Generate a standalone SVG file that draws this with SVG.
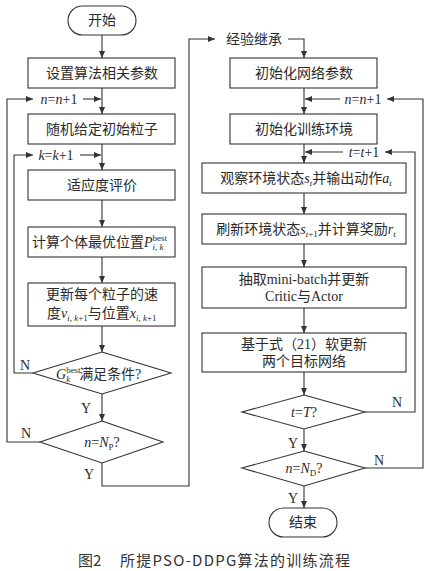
<svg xmlns="http://www.w3.org/2000/svg" width="447" height="571" viewBox="0 0 447 571">
<defs>
<marker id="arr" markerUnits="userSpaceOnUse" markerWidth="7" markerHeight="6" refX="7" refY="3" orient="auto">
<path d="M0,0 L7,3 L0,6 z" fill="#333"/>
</marker>
<style>
.n{fill:#fff;stroke:#333;stroke-width:1.1}
.t{font-family:"Liberation Serif","Noto Sans CJK SC",serif;font-size:14px;fill:#2a2a2a}
.m{text-anchor:middle}
.i{font-style:italic}
.s{font-size:9px}
.c{fill:none;stroke:#333;stroke-width:1.1}
.a{marker-end:url(#arr)}
</style>
</defs>
<rect width="447" height="571" fill="#fff"/>

<g id="connectors">
<path class="c a" d="M102,35 V58"/>
<path class="c a" d="M102,88 V114"/>
<path class="c a" d="M102,144 V170"/>
<path class="c a" d="M102,200 V227"/>
<path class="c a" d="M102,257 V283"/>
<path class="c a" d="M102,326 V352"/>
<path class="c a" d="M102,394 V421"/>
<path class="c a" d="M40,442 H7 V99 H33"/>
<path class="c a" d="M83,99 H101"/>
<path class="c a" d="M33,373 H14 V155 H33"/>
<path class="c a" d="M80,155 H101"/>
<path class="c a" d="M102,463 V486 H189 V39 H215"/>
<path class="c a" d="M288,39 H304 V58"/>
<path class="c a" d="M304,88 V114"/>
<path class="c a" d="M304,144 V163"/>
<path class="c a" d="M304,193 V214"/>
<path class="c a" d="M304,244 V267"/>
<path class="c a" d="M304,308 V333"/>
<path class="c a" d="M304,372 V395"/>
<path class="c a" d="M304,429 V451"/>
<path class="c a" d="M304,486 V508"/>
<path class="c a" d="M365,468 H423 V99 H387"/>
<path class="c a" d="M340,99 H305"/>
<path class="c a" d="M365,412 H415 V152 H385"/>
<path class="c a" d="M343,152 H305"/>
<text class="t m" x="59" y="104"><tspan class="i">n</tspan>=<tspan class="i">n</tspan>+1</text>
<text class="t m" x="56" y="160"><tspan class="i">k</tspan>=<tspan class="i">k</tspan>+1</text>
<text class="t m" x="254" y="44">经验继承</text>
<text class="t m" x="363" y="104"><tspan class="i">n</tspan>=<tspan class="i">n</tspan>+1</text>
<text class="t m" x="364" y="157"><tspan class="i">t</tspan>=<tspan class="i">t</tspan>+1</text>
<text class="t m" x="25" y="370">N</text>
<text class="t m" x="86" y="413">Y</text>
<text class="t m" x="26" y="438">N</text>
<text class="t m" x="89" y="479">Y</text>
<text class="t m" x="397" y="407">N</text>
<text class="t m" x="293" y="448">Y</text>
<text class="t m" x="379" y="465">N</text>
<text class="t m" x="293" y="503">Y</text>
</g>

<g id="start"><rect class="n" x="68" y="6" width="68" height="29" rx="14.5"/><text class="t m" x="102" y="25">开始</text></g>
<g id="setParams"><rect class="n" x="28" y="58" width="147" height="30"/><text class="t m" x="102" y="78">设置算法相关参数</text></g>
<g id="initParticles"><rect class="n" x="28" y="114" width="147" height="30"/><text class="t m" x="102" y="134">随机给定初始粒子</text></g>
<g id="fitness"><rect class="n" x="28" y="170" width="147" height="30"/><text class="t m" x="102" y="190">适应度评价</text></g>
<g id="pbest"><rect class="n" x="28" y="227" width="147" height="30"/><text class="t" x="32" y="247">计算个体最优位置<tspan class="i">P</tspan><tspan class="s" dy="-6">best</tspan><tspan class="s i" dx="-14.5" dy="9">i, k</tspan></text></g>
<g id="update"><rect class="n" x="28" y="283" width="147" height="43"/><text class="t m" x="102" y="299">更新每个粒子的速</text><text class="t" x="47" y="318">度<tspan class="i">v</tspan><tspan class="s" dy="3"><tspan class="i">i</tspan>, <tspan class="i">k</tspan>+1</tspan><tspan dy="-3">与位置</tspan><tspan class="i">x</tspan><tspan class="s" dy="3"><tspan class="i">i</tspan>, <tspan class="i">k</tspan>+1</tspan></text></g>
<g id="gbestCheck"><polygon class="n" points="102,352 171,373 102,394 33,373"/><text class="t" x="56" y="379"><tspan class="i">G</tspan><tspan class="s" dy="-6">best</tspan><tspan class="s i" dx="-14.5" dy="9">k</tspan><tspan dx="9" dy="-3">满足条件?</tspan></text></g>
<g id="npCheck"><polygon class="n" points="102,421 163,442 102,463 40,442"/><text class="t m" x="102" y="447"><tspan class="i">n</tspan>=<tspan class="i">N</tspan><tspan class="s" dy="3">P</tspan><tspan dy="-3">?</tspan></text></g>

<g id="initNet"><rect class="n" x="230" y="58" width="147" height="30"/><text class="t m" x="304" y="78">初始化网络参数</text></g>
<g id="initEnv"><rect class="n" x="230" y="114" width="147" height="30"/><text class="t m" x="304" y="134">初始化训练环境</text></g>
<g id="observe"><rect class="n" x="202" y="163" width="204" height="30"/><text class="t m" x="306" y="183">观察环境状态<tspan class="i">s</tspan><tspan class="s i" dy="3">t</tspan><tspan dy="-3">并输出动作</tspan><tspan class="i">a</tspan><tspan class="s i" dy="3">t</tspan></text></g>
<g id="refresh"><rect class="n" x="202" y="214" width="204" height="30"/><text class="t m" x="306" y="234">刷新环境状态<tspan class="i">s</tspan><tspan class="s" dy="3"><tspan class="i">t</tspan>+1</tspan><tspan dy="-3">并计算奖励</tspan><tspan class="i">r</tspan><tspan class="s i" dy="3">t</tspan></text></g>
<g id="sample"><rect class="n" x="202" y="267" width="204" height="41"/><text class="t m" x="304" y="284">抽取mini-batch并更新</text><text class="t m" x="304" y="301">Critic与Actor</text></g>
<g id="softUpdate"><rect class="n" x="202" y="333" width="204" height="39"/><text class="t m" x="304" y="349">基于式（21）软更新</text><text class="t m" x="304" y="366">两个目标网络</text></g>
<g id="tCheck"><polygon class="n" points="304,395 365,412 304,429 242,412"/><text class="t m" x="304" y="417"><tspan class="i">t</tspan>=<tspan class="i">T</tspan>?</text></g>
<g id="ndCheck"><polygon class="n" points="304,451 365,468 304,486 242,468"/><text class="t m" x="304" y="473"><tspan class="i">n</tspan>=<tspan class="i">N</tspan><tspan class="s" dy="3">D</tspan><tspan dy="-3">?</tspan></text></g>
<g id="end"><rect class="n" x="269" y="508" width="68" height="29" rx="14.5"/><text class="t m" x="303" y="527">结束</text></g>

<g id="caption">
<text x="78" y="566" style="font-family:'Noto Sans CJK SC','Noto Sans',sans-serif;font-size:15px;fill:#333">图2</text>
<text x="120" y="566" textLength="230" lengthAdjust="spacing" style="font-family:'Noto Sans CJK SC','Noto Sans',sans-serif;font-size:15px;fill:#333">所提PSO-DDPG算法的训练流程</text>
</g>
</svg>
